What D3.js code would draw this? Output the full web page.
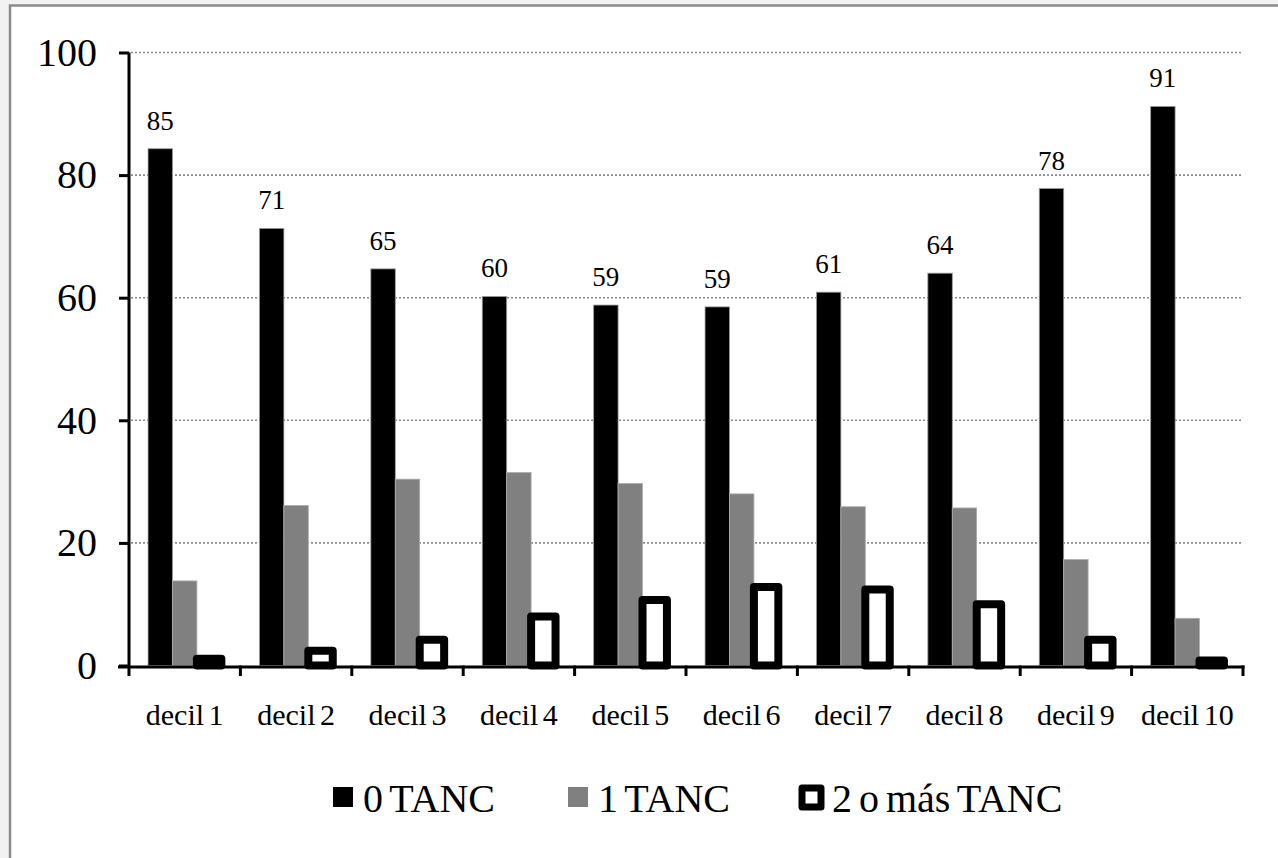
<!DOCTYPE html>
<html>
<head>
<meta charset="utf-8">
<script src="https://cdn.jsdelivr.net/npm/d3@7"></script>
<style>
  body { margin: 0; background: #f2f2f2; }
  svg { display: block; }
</style>
</head>
<body>
<div class="chart"></div>
<script>
const categories = ["decil 1", "decil 2", "decil 3", "decil 4", "decil 5",
  "decil 6", "decil 7", "decil 8", "decil 9", "decil 10"];
const seriesNames = ["0 TANC", "1 TANC", "2 o más TANC"];
const tanc0 = [84.3, 71.3, 64.7, 60.2, 58.8, 58.5, 60.9, 64.0, 77.8, 91.2];
const tanc1 = [13.8, 26.1, 30.4, 31.5, 29.7, 28.0, 25.9, 25.7, 17.3, 7.7];
const tanc2 = [1.1, 2.4, 4.2, 8.0, 10.7, 12.8, 12.4, 10.0, 4.2, 0.8];
const tanc0Labels = ["85", "71", "65", "60", "59", "59", "61", "64", "78", "91"];
const yTicks = [0, 20, 40, 60, 80, 100];

const font = "Liberation Serif";

const svg = d3.select(".chart")
  .append("svg")
    .attr("width", 1278)
    .attr("height", 858);

// chart area with grey frame
svg.append("rect")
  .attr("x", 10)
  .attr("y", 5.5)
  .attr("width", 1290)
  .attr("height", 900)
  .attr("fill", "white")
  .attr("stroke", "#8c8c8c")
  .attr("stroke-width", 2.5);

const xScale = d3.scaleBand()
  .domain(categories)
  .range([129, 1243]);

const sScale = d3.scaleBand()
  .domain(seriesNames)
  .range([0, xScale.bandwidth()])
  .paddingOuter(0.78);

const yScale = d3.scaleLinear()
  .domain([0, 100])
  .range([665.5, 52.5]);

// dotted gridlines
svg.append("g")
  .selectAll("line")
  .data(yTicks.filter(d => d > 0))
  .join("line")
    .attr("x1", 131)
    .attr("x2", 1243)
    .attr("y1", d => yScale(d))
    .attr("y2", d => yScale(d))
    .attr("stroke", "#8a8a8a")
    .attr("stroke-width", 1.6)
    .attr("stroke-dasharray", "2,2");

const data = categories.map((c, i) => ({
  cat: c,
  values: [tanc0[i], tanc1[i], tanc2[i]],
  label: tanc0Labels[i]
}));

const groups = svg.selectAll("g.cat")
  .data(data)
  .join("g")
    .attr("class", "cat")
    .attr("transform", d => `translate(${xScale(d.cat)}, 0)`);

// 0 TANC
groups.append("rect")
  .attr("x", sScale(seriesNames[0]))
  .attr("y", d => yScale(d.values[0]))
  .attr("width", sScale.bandwidth())
  .attr("height", d => yScale(0) - yScale(d.values[0]))
  .attr("fill", "black")
  .attr("stroke", "#9a9a9a")
  .attr("stroke-width", 0.8);

// 1 TANC
groups.append("rect")
  .attr("x", sScale(seriesNames[1]))
  .attr("y", d => yScale(d.values[1]))
  .attr("width", sScale.bandwidth())
  .attr("height", d => yScale(0) - yScale(d.values[1]))
  .attr("fill", "#808080")
  .attr("stroke", "#b0b0b0")
  .attr("stroke-width", 0.8);

// 2 o más TANC
groups.append("rect")
  .attr("x", sScale(seriesNames[2]))
  .attr("y", d => yScale(d.values[2]))
  .attr("width", sScale.bandwidth())
  .attr("height", d => yScale(0) - yScale(d.values[2]))
  .attr("fill", "white")
  .attr("stroke", "black")
  .attr("stroke-width", 8)
  .attr("stroke-linejoin", "round");

// data labels
groups.append("text")
  .text(d => d.label)
  .attr("x", sScale(seriesNames[0]) + sScale.bandwidth() / 2)
  .attr("y", d => yScale(d.values[0]) - 19)
  .attr("text-anchor", "middle")
  .attr("font-family", font)
  .attr("font-size", 27);

// y axis
const yAxis = svg.append("g")
  .attr("transform", "translate(129, 0)")
  .call(d3.axisLeft(yScale).tickValues(yTicks).tickSize(10).tickSizeOuter(0))
  .attr("font-family", font)
  .attr("font-size", 40);
yAxis.select(".domain").attr("stroke-width", 3).attr("d", `M0,${yScale(100)}V676`);
yAxis.selectAll(".tick line").attr("stroke-width", 3);
yAxis.selectAll(".tick text")
  .attr("x", -32)
  .attr("fill", "black");

// x axis
const xAxis = svg.append("g")
  .attr("transform", `translate(0, ${yScale(0) + 1.5})`)
  .call(d3.axisBottom(xScale).tickSize(0).tickSizeOuter(0))
  .attr("font-family", font)
  .attr("font-size", 30);
xAxis.select(".domain").attr("stroke-width", 3).attr("d", "M118,0H1244.5");
xAxis.selectAll(".tick text")
  .attr("y", 58)
  .attr("dy", 0)
  .attr("word-spacing", -3)
  .attr("fill", "black");

// boundary ticks between categories
svg.append("g")
  .selectAll("line")
  .data(categories.slice(1).concat(["end"]))
  .join("line")
    .attr("x1", d => d === "end" ? 1243 : xScale(d))
    .attr("x2", d => d === "end" ? 1243 : xScale(d))
    .attr("y1", yScale(0))
    .attr("y2", 676)
    .attr("stroke", "black")
    .attr("stroke-width", 3);

// legend
const legendX = [333, 568, 802];
const legend = svg.append("g")
  .selectAll("g")
  .data(seriesNames)
  .join("g")
    .attr("transform", (d, i) => `translate(${legendX[i]}, 787)`);

legend.append("rect")
  .attr("y", (d, i) => i === 2 ? 1 : 0)
  .attr("width", (d, i) => i === 2 ? 19 : 20)
  .attr("height", (d, i) => i === 2 ? 19 : 20)
  .attr("fill", (d, i) => ["black", "#808080", "white"][i])
  .attr("stroke", (d, i) => i === 2 ? "black" : "none")
  .attr("stroke-width", 7)
  .attr("stroke-linejoin", "round");

legend.append("text")
  .text(d => d)
  .attr("x", 30)
  .attr("y", 25)
  .attr("word-spacing", -3)
  .attr("font-family", font)
  .attr("font-size", 40);
</script>
</body>
</html>
